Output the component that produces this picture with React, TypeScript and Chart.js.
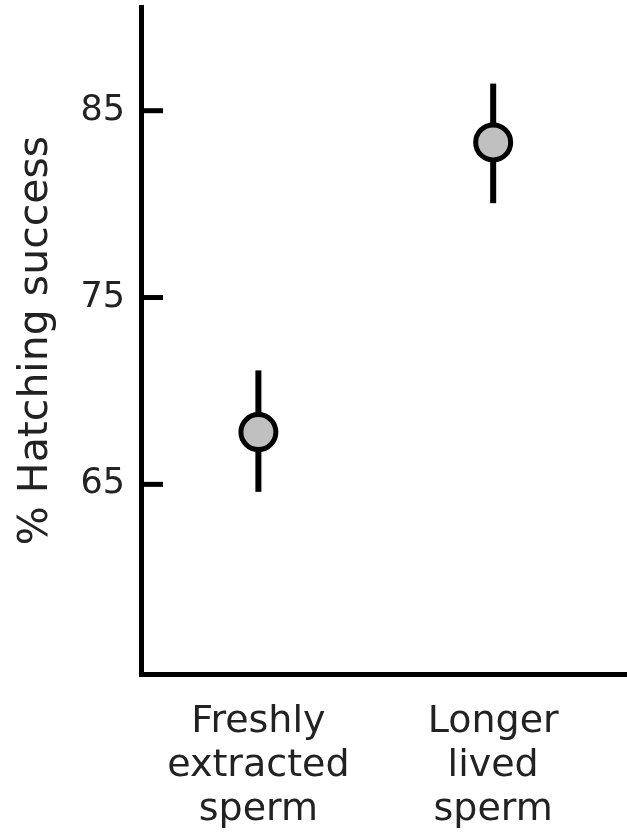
import React, { useEffect, useRef } from "react";
import { Chart, registerables } from "chart.js";

Chart.register(...registerables);

const categories: string[][] = [
  ["Freshly", "extracted", "sperm"],
  ["Longer", "lived", "sperm"],
];
const categoryPositions = [1, 2];
const meanValues = [67.8, 83.3];
const lowerValues = [64.6, 80.05];
const upperValues = [71.1, 86.45];
const yTickValues = [65, 75, 85];

const FONT = "'DejaVu Sans', sans-serif";
const TEXT = "#222";

const errorBarPlugin = {
  id: "errorBars",
  beforeDatasetsDraw(chart: any) {
    const { ctx, scales } = chart;
    const xs = scales.x;
    const ys = scales.y;
    ctx.save();
    ctx.strokeStyle = "#000";
    ctx.lineWidth = 6;
    ctx.lineCap = "butt";
    categoryPositions.forEach((xv, i) => {
      const px = xs.getPixelForValue(xv);
      ctx.beginPath();
      ctx.moveTo(px, ys.getPixelForValue(lowerValues[i]));
      ctx.lineTo(px, ys.getPixelForValue(upperValues[i]));
      ctx.stroke();
    });
    // inward ticks on the y axis
    ctx.lineWidth = 5;
    const left = chart.chartArea.left;
    yTickValues.forEach((v) => {
      const py = ys.getPixelForValue(v);
      ctx.beginPath();
      ctx.moveTo(left, py);
      ctx.lineTo(left + 22, py);
      ctx.stroke();
    });
    ctx.restore();
  },
};

const zeroPadding = (scale: any) => {
  scale.paddingTop = 0;
  scale.paddingBottom = 0;
  scale.paddingLeft = 0;
  scale.paddingRight = 0;
};

export default function App() {
  const ref = useRef<HTMLCanvasElement | null>(null);

  useEffect(() => {
    document.body.style.margin = "0";
    const canvas = ref.current;
    if (!canvas) return;
    const chart = new Chart(canvas, {
      type: "scatter",
      data: {
        datasets: [
          {
            data: categoryPositions.map((x, i) => ({ x, y: meanValues[i] })),
            pointRadius: 17.5,
            pointHoverRadius: 17.5,
            pointBorderWidth: 5,
            pointBackgroundColor: "#c0c0c0",
            pointBorderColor: "#000",
            showLine: false,
          },
        ],
      },
      options: {
        responsive: false,
        animation: false,
        events: [],
        layout: { autoPadding: false, padding: { top: 7, left: 0, right: 0, bottom: 0 } },
        plugins: {
          legend: { display: false },
          tooltip: { enabled: false },
        },
        scales: {
          x: {
            type: "linear",
            min: 0.5,
            max: 2.57,
            grid: { display: false, drawTicks: false },
            border: { display: true, width: 5, color: "#000" },
            afterBuildTicks: (scale: any) => {
              scale.ticks = categoryPositions.map((v) => ({ value: v }));
            },
            afterFit: (scale: any) => {
              scale.height = 163;
              zeroPadding(scale);
            },
            ticks: {
              padding: 26,
              maxRotation: 0,
              autoSkip: false,
              color: TEXT,
              font: { family: FONT, size: 38, lineHeight: 1.16 },
              callback: (value: any) => categories[categoryPositions.indexOf(Number(value))] ?? "",
            },
          },
          y: {
            type: "linear",
            min: 54.85,
            max: 90.55,
            grid: { display: false, drawTicks: false },
            border: { display: true, width: 5, color: "#000" },
            afterBuildTicks: (scale: any) => {
              scale.ticks = yTickValues.map((v) => ({ value: v }));
            },
            afterFit: (scale: any) => {
              scale.width = 141;
              zeroPadding(scale);
            },
            ticks: {
              padding: 16,
              color: TEXT,
              font: { family: FONT, size: 35 },
            },
            title: {
              display: true,
              text: "% Hatching success",
              color: TEXT,
              font: { family: FONT, size: 41, lineHeight: 1.2 },
              padding: { top: 12, bottom: 0 },
            },
          },
        },
      },
      plugins: [errorBarPlugin],
    } as any);
    return () => chart.destroy();
  }, []);

  return (
    <div style={{ width: 627, height: 837 }}>
      <canvas ref={ref} width={627} height={837} style={{ display: "block" }} />
    </div>
  );
}
